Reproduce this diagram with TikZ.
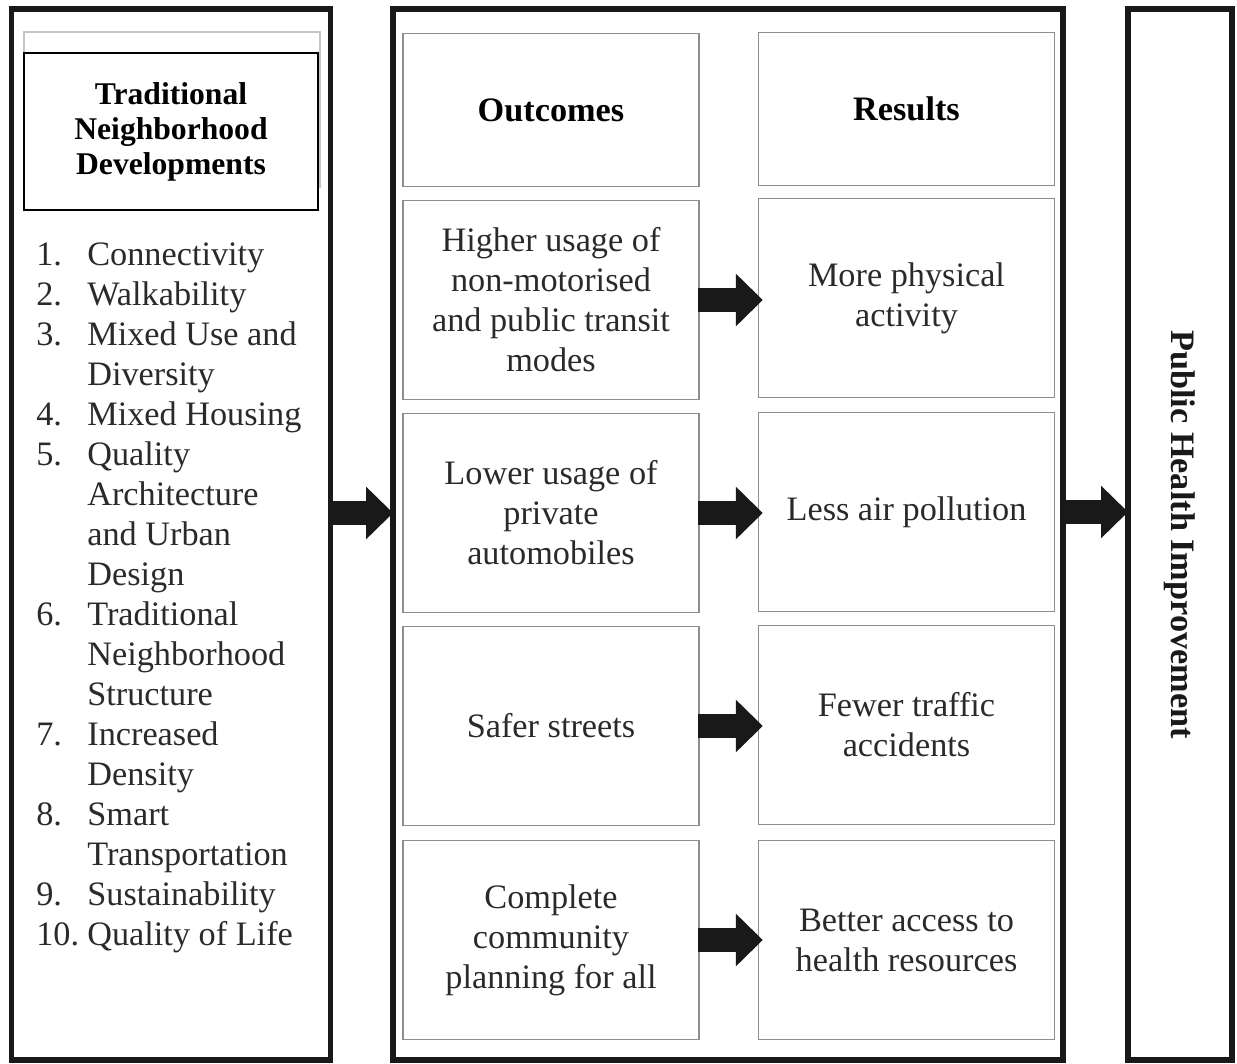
\documentclass[tikz,border=0pt]{standalone}
\usepackage{fontspec}
\setmainfont{Liberation Serif}
\usetikzlibrary{arrows.meta, calc, positioning}
\definecolor{inkgray}{HTML}{2A2A2A}
\definecolor{cellgray}{HTML}{8E8E8E}
\definecolor{ghostgray}{HTML}{C4C4C4}

\tikzset{
  frame/.style={draw=black!90, line width=3pt, inner sep=0pt, outer sep=0pt},
  cell/.style={draw=cellgray, line width=0.8pt, minimum width=5.92cm, minimum height=3.98cm,
    align=center, text=inkgray, inner sep=0pt, font=\fontsize{19.5}{22.8}\selectfont},
  headcell/.style={cell, minimum height=3.06cm, text=black, font=\fontsize{19.5}{22.8}\selectfont\bfseries},
  blockarrow/.style={line width=0.48cm, black!90, -{Triangle[length=0.54cm,width=1.02cm]}},
  listtext/.style={anchor=base west, inner sep=0pt, text=inkgray, font=\fontsize{19.5}{22.8}\selectfont}
}

\begin{document}
\begin{tikzpicture}[x=0.02cm, y=-0.02cm]
    \useasboundingbox (0,0) rectangle (1237,1064);

    % three frames
    \node[frame, minimum width=6.38cm, minimum height=21.02cm] (lbox) at (171,534.5) {};
    \node[frame, minimum width=13.4cm, minimum height=21.02cm] (mbox) at (728,534.5) {};
    \node[frame, minimum width=2.08cm, minimum height=21.02cm] (rbox) at (1180,534.5) {};

    % title of the left frame
    \draw[ghostgray, line width=0.8pt] (24,32) rectangle (320,187);
    \node[draw, fill=white, line width=1pt, minimum width=5.88cm, minimum height=3.14cm,
        align=center, inner sep=0pt, font=\fontsize{18}{19.9}\selectfont\bfseries] (tnd) at (171,131.5)
        {\raisebox{-0.1cm}{\parbox{5.8cm}{\centering Traditional\\Neighborhood\\Developments}}};

    % numbered list
    \foreach \t [count=\i from 0] in {Connectivity, Walkability, Mixed Use and, Diversity,
        Mixed Housing, Quality, Architecture, and Urban, Design, Traditional, Neighborhood,
        Structure, Increased, Density, Smart, Transportation, Sustainability, Quality of Life}
        \node[listtext] (item\i) at (87,265+40*\i) {\t};
    \foreach \n/\i in {1./0, 2./1, 3./2, 4./4, 5./5, 6./9, 7./12, 8./14, 9./16, 10./17}
        \node[listtext] (num\i) at (36,265+40*\i) {\n};

    % outcomes and results
    \node[headcell] (outc) at (551,110) {Outcomes};
    \node[headcell] (resc) at (906.5,109) {Results};

    \node[cell] (o1) at (551,300) {Higher usage of\\non-motorised\\and public transit\\modes};
    \node[cell] (o2) at (551,513) {Lower usage of\\private\\automobiles};
    \node[cell] (o3) at (551,726) {Safer streets};
    \node[cell] (o4) at (551,940) {Complete\\community\\planning for all};

    \node[cell] (r1) at (906.5,298) {More physical\\activity};
    \node[cell] (r2) at (906.5,512) {Less air pollution};
    \node[cell] (r3) at (906.5,725) {Fewer traffic\\accidents};
    \node[cell] (r4) at (906.5,940) {Better access to\\health resources};

    % right frame text
    \node[rotate=-90, inner sep=0pt, text=black!90, font=\fontsize{19.5}{22.8}\selectfont\bfseries]
        (phi) at (rbox.center) {Public Health Improvement};

    % block arrows
    \draw[blockarrow] (lbox.east |- o2.west) -- (mbox.west |- o2.west);
    \draw[blockarrow] (mbox.east |- r2.east) -- (rbox.west |- r2.east);
    \foreach \k in {1,...,4}
        \draw[blockarrow, shorten <=-0.04cm, shorten >=-0.1cm] (o\k.east) -- (r\k.west |- o\k.east);
\end{tikzpicture}
\end{document}
